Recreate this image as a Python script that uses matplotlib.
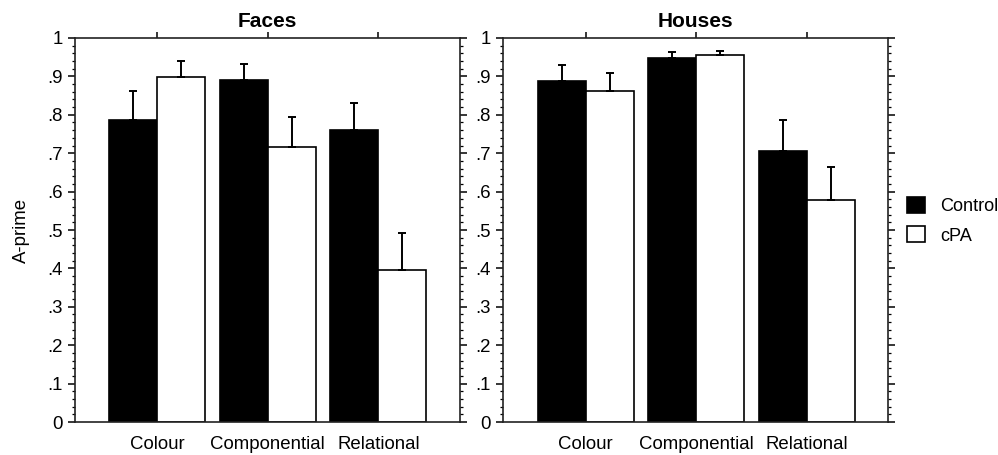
import matplotlib.pyplot as plt
from matplotlib.patches import Patch
from matplotlib.ticker import MultipleLocator
import numpy as np

plt.rcParams['font.family'] = ['Liberation Sans', 'DejaVu Sans']

categories = ['Colour', 'Componential', 'Relational']
panels = ['Faces', 'Houses']
series = ['Control', 'cPA']

faces_control = [0.787, 0.891, 0.761]
faces_control_err = [0.074, 0.042, 0.070]
faces_cpa = [0.898, 0.717, 0.397]
faces_cpa_err = [0.041, 0.076, 0.094]

houses_control = [0.889, 0.948, 0.707]
houses_control_err = [0.041, 0.015, 0.080]
houses_cpa = [0.861, 0.957, 0.578]
houses_cpa_err = [0.047, 0.010, 0.087]

ytick_vals = [0, .1, .2, .3, .4, .5, .6, .7, .8, .9, 1]
ytick_labels = ['0', '.1', '.2', '.3', '.4', '.5', '.6', '.7', '.8', '.9', '1']

data = {
    'Faces': [(faces_control, faces_control_err), (faces_cpa, faces_cpa_err)],
    'Houses': [(houses_control, houses_control_err), (houses_cpa, houses_cpa_err)],
}

fig = plt.figure(figsize=(9.98, 4.55), dpi=100)
ax1 = fig.add_axes([0.0752, 0.0725, 0.3858, 0.844])
ax2 = fig.add_axes([0.5043, 0.0725, 0.3858, 0.844])

fs = 13.4
w = 0.435
x = np.arange(len(categories))
colors = ['black', 'white']

for ax, name in zip([ax1, ax2], panels):
    for k, (vals, errs) in enumerate(data[name]):
        xs = x - w / 2 + k * w
        ax.bar(xs, vals, w, color=colors[k], edgecolor='black', linewidth=1.2, zorder=2)
        ax.errorbar(xs, vals, yerr=[np.zeros(len(vals)), errs], fmt='none',
                    ecolor='black', elinewidth=1.4, capsize=3, capthick=1.4, zorder=3)
    ax.set_xlim(-0.745, 2.74)
    ax.set_ylim(0, 1)
    ax.set_yticks(ytick_vals)
    ax.set_yticklabels(ytick_labels, fontsize=fs)
    ax.yaxis.set_minor_locator(MultipleLocator(0.02))
    ax.tick_params(axis='y', which='major', left=True, right=True, direction='out',
                   length=5, width=1.1, pad=4)
    ax.tick_params(axis='y', which='minor', left=True, right=True, direction='out',
                   length=2.5, width=0.9)
    ax.set_xticks(x)
    ax.set_xticklabels(categories, fontsize=fs)
    ax.tick_params(axis='x', which='major', bottom=True, top=False, direction='in',
                   length=4, width=1.1, pad=10)
    top = ax.secondary_xaxis('top')
    top.set_xticks(x)
    top.set_xticklabels([])
    top.tick_params(direction='out', length=4, width=1.1)
    top.spines['top'].set_visible(False)
    for s in ax.spines.values():
        s.set_linewidth(1.2)
        s.set_color('#222222')
    ax.set_title(name, fontsize=15, fontweight='bold', pad=8)

ax1.set_ylabel('A-prime', fontsize=fs, labelpad=12)

handles = [Patch(facecolor=c, edgecolor='black', linewidth=1.2) for c in colors]
fig.legend(handles, series, loc='center left', bbox_to_anchor=(0.909, 0.515),
           frameon=False, fontsize=13.1, handlelength=1.0, handleheight=1.0,
           handletextpad=0.8, labelspacing=0.6, borderpad=0, borderaxespad=0)

fig.savefig('out.png', dpi=100)
